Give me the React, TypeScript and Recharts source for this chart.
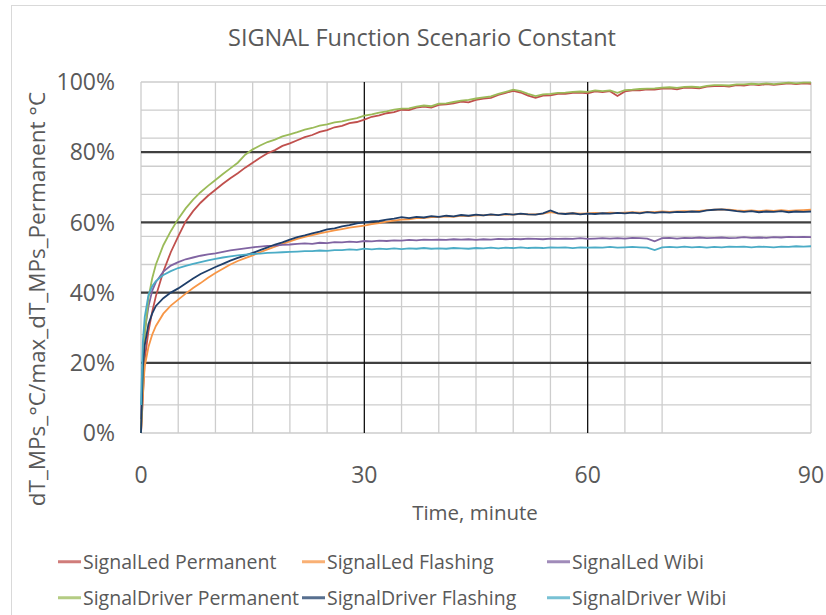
import { LineChart, Line, XAxis, YAxis, CartesianGrid } from "recharts";

// time axis (minutes) – dense at the start where the curves rise fast
const minutes = [
  0, 0.25, 0.5, 1, 1.5, 2, 3, 4, 5, 6, 7, 8, 9, 10, 11, 12, 13, 14, 15, 16, 17, 18, 19, 20,
  21, 22, 23, 24, 25, 26, 27, 28, 29, 30, 31, 32, 33, 34, 35, 36, 37, 38, 39, 40, 41, 42,
  43, 44, 45, 46, 47, 48, 49, 50, 51, 52, 53, 54, 55, 56, 57, 58, 59, 60, 61, 62, 63, 64,
  65, 66, 67, 68, 69, 70, 71, 72, 73, 74, 75, 76, 77, 78, 79, 80, 81, 82, 83, 84, 85, 86,
  87, 88, 89, 90,
];

// values in % of max dT (SignalDriver/SignalLed permanent)
const ledPermanent = [
  0, 10, 21, 29, 34.5, 39, 46, 51.5, 56, 60.3, 63.2, 65.6, 67.6, 69.3, 71, 72.6, 74, 75.6, 77, 78.4,
  79.7, 80.6, 81.8, 82.5, 83.4, 84.3, 84.9, 85.8, 86.3, 87.1, 87.5, 88.3, 88.6, 89.3, 90.1, 90.5,
  91.1, 91.4, 92.1, 92, 92.7, 93, 92.7, 93.5, 93.6, 93.9, 94.4, 94.2, 94.9, 95.3, 95.5, 96.3, 96.9,
  97.5, 97, 96.1, 95.5, 96.1, 96.2, 96.6, 96.6, 96.9, 97, 96.8, 97.3, 97.1, 97.4, 96, 97.3, 97.6,
  97.6, 97.9, 97.8, 98.1, 98.2, 97.9, 98.4, 98.3, 98.2, 98.7, 98.8, 98.9, 98.7, 99.1, 99, 99.3,
  99.1, 99.4, 99.2, 99.4, 99.6, 99.4, 99.6, 99.5,
];
const ledFlashing = [
  0, 11, 19, 24.5, 28, 30.5, 34, 36.3, 38, 39.7, 41.3, 42.7, 44.2, 45.6, 46.8, 48, 49, 49.8, 50.6,
  51.5, 52.3, 53.1, 53.9, 54.6, 55.3, 55.9, 56.4, 56.9, 57.3, 57.7, 58.1, 58.5, 58.8, 59.1, 59.5,
  59.8, 60.2, 60.5, 60.8, 60.9, 61.2, 61.2, 61.5, 61.5, 61.7, 61.6, 61.9, 61.8, 62, 62, 62.2, 62.1,
  62.3, 62.2, 62.4, 62.3, 62.3, 62.5, 62.9, 62.6, 62.5, 62.6, 62.5, 62.6, 62.7, 62.6, 62.8, 62.7,
  62.8, 62.9, 62.8, 63, 62.9, 63.1, 63, 63.1, 63.2, 63.1, 63.3, 63.5, 63.6, 63.7, 63.6, 63.4, 63.3,
  63.4, 63.2, 63.4, 63.3, 63.5, 63.3, 63.4, 63.5, 63.6,
];
const ledWibi = [
  4, 21, 29, 36, 40.5, 43, 46, 47.7, 48.7, 49.5, 50, 50.5, 50.9, 51.2, 51.6, 52, 52.3, 52.6, 52.9,
  53.1, 53.3, 53.4, 53.6, 53.7, 53.9, 54, 53.9, 54.2, 54.1, 54.4, 54.3, 54.5, 54.4, 54.7, 54.6,
  54.8, 54.7, 54.9, 54.8, 55, 54.9, 55.1, 55, 55.1, 55, 55.2, 55.1, 55.2, 55, 55.2, 55.1, 55.3,
  55.2, 55.3, 55.2, 55.4, 55.3, 55.2, 55.4, 55.3, 55.4, 55.3, 55.5, 55.3, 55.4, 55.5, 55.4, 55.5,
  55.4, 55.6, 55.5, 55.4, 54.6, 55.5, 55.6, 55.4, 55.6, 55.5, 55.7, 55.5, 55.6, 55.7, 55.5, 55.6,
  55.8, 55.6, 55.7, 55.6, 55.8, 55.7, 55.9, 55.8, 55.9, 55.8,
];
const driverPermanent = [
  0, 17, 28, 38.5, 44, 48, 53.5, 57.5, 61, 64, 66.5, 68.6, 70.4, 72.1, 73.8, 75.4, 77, 79.3, 80.8,
  81.9, 82.9, 83.6, 84.5, 85.1, 85.7, 86.4, 86.9, 87.6, 87.9, 88.5, 88.8, 89.3, 89.7, 90.4, 90.8,
  91.3, 91.6, 92.1, 92.4, 92.5, 93, 93.3, 93.1, 93.8, 93.9, 94.3, 94.7, 94.9, 95.3, 95.6, 95.9,
  96.6, 97.2, 97.8, 97.4, 96.6, 96, 96.5, 96.6, 96.9, 97, 97.2, 97.3, 97.2, 97.6, 97.4, 97.6, 96.9,
  97.7, 97.8, 98, 98.1, 98.2, 98.4, 98.5, 98.3, 98.6, 98.7, 98.5, 98.9, 99.1, 99.1, 99, 99.3, 99.3,
  99.5, 99.4, 99.6, 99.4, 99.6, 99.8, 99.6, 99.8, 99.8,
];
const driverFlashing = [
  0, 19, 25, 31, 34, 36.2, 38.4, 40, 41.2, 42.6, 44, 45.3, 46.3, 47.3, 48.2, 49.1, 49.9, 50.6, 51.3,
  52.1, 52.9, 53.7, 54.3, 55.1, 55.8, 56.3, 56.9, 57.4, 58, 58.3, 58.9, 59.2, 59.7, 60, 60.3, 60.4,
  60.8, 61.1, 61.5, 61.2, 61.6, 61.4, 61.8, 61.6, 61.9, 61.7, 62.1, 61.9, 62.2, 62, 62.3, 62.1,
  62.4, 62.2, 62.5, 62.3, 62.2, 62.6, 63.4, 62.6, 62.4, 62.6, 62.3, 62.5, 62.4, 62.6, 62.5, 62.7,
  62.6, 62.8, 62.6, 62.9, 62.7, 62.9, 62.8, 63, 62.9, 63.1, 63, 63.4, 63.6, 63.7, 63.5, 63.2, 63,
  63.2, 62.9, 63.1, 63, 63.2, 62.9, 63.1, 63, 63.1,
];
const driverWibi = [
  8, 26, 33, 39.3, 41.8, 43.3, 45, 46.1, 47, 47.6, 48.2, 48.7, 49.2, 49.6, 50, 50.3, 50.6, 50.8, 51,
  51.1, 51.3, 51.4, 51.5, 51.6, 51.7, 51.8, 51.8, 52, 51.9, 52.1, 52.1, 52.3, 52.2, 52.5, 52.3,
  52.5, 52.4, 52.6, 52.4, 52.6, 52.5, 52.7, 52.5, 52.6, 52.5, 52.7, 52.6, 52.5, 52.7, 52.6, 52.8,
  52.6, 52.8, 52.7, 52.9, 52.7, 52.8, 52.7, 52.9, 52.8, 52.9, 52.7, 52.9, 52.8, 52.9, 52.8, 53,
  52.8, 52.9, 53, 52.9, 52.8, 52.1, 52.9, 53, 52.9, 53.1, 52.9, 53, 52.8, 53, 52.9, 53.1, 53, 53.1,
  52.9, 53.1, 53, 52.9, 53.1, 53, 53.2, 53.1, 53.2,
];

const xTicks = [0, 30, 60, 90];
const yTicks = [0, 20, 40, 60, 80, 100];
const minorX = [0, 5, 10, 15, 20, 25, 35, 40, 45, 50, 55, 65, 70, 90];
const minorY = [
  0, 4, 8, 12, 16, 24, 28, 32, 36, 44, 48, 52, 56, 64, 68, 72, 76, 84, 88, 92, 96, 100,
];
const majorX = [30, 60];
const majorY = [20, 40, 60, 80];

const series = [
  { key: "ledPermanent", name: "SignalLed Permanent", color: "#C0504D", values: ledPermanent },
  { key: "ledFlashing", name: "SignalLed Flashing", color: "#F79646", values: ledFlashing },
  { key: "ledWibi", name: "SignalLed Wibi", color: "#8064A2", values: ledWibi },
  { key: "driverPermanent", name: "SignalDriver Permanent", color: "#9BBB59", values: driverPermanent },
  { key: "driverFlashing", name: "SignalDriver Flashing", color: "#1F3F6A", values: driverFlashing },
  { key: "driverWibi", name: "SignalDriver Wibi", color: "#4BACC6", values: driverWibi },
];

const data = minutes.map((t, i) => {
  const row: Record<string, number> = { t };
  series.forEach((s) => (row[s.key] = s.values[i]));
  return row;
});

const FONT = '"Open Sans", sans-serif';
const TEXT = "#595959";

const legendCols = [58, 302, 547];
const legendRows = [562, 598];

function Centered({ x, y, size, rotate, children }: any) {
  return (
    <div
      style={{
        position: "absolute",
        left: x,
        top: y,
        transform: `translate(-50%, -50%)${rotate ? ` rotate(${rotate}deg)` : ""}`,
        whiteSpace: "nowrap",
        fontFamily: FONT,
        fontSize: size,
        color: TEXT,
        lineHeight: 1,
      }}
    >
      {children}
    </div>
  );
}

export default function App() {
  return (
    <div
      style={{
        position: "absolute",
        left: 0,
        top: 0,
        width: 826,
        height: 615,
        overflow: "hidden",
        background: "#fff",
      }}
    >
      <div
        style={{
          position: "absolute",
          left: 11,
          top: 5,
          width: 900,
          height: 700,
          border: "1.5px solid #d9d9d9",
        }}
      />
      <Centered x={422} y={38} size={23.5}>
        SIGNAL Function Scenario Constant
      </Centered>
      <Centered x={37} y={299} size={22.5} rotate={-90}>
        dT_MPs_°C/max_dT_MPs_Permanent °C
      </Centered>
      <Centered x={475} y={512} size={20.5}>
        Time, minute
      </Centered>

      <div style={{ position: "absolute", left: 0, top: 0 }}>
        <LineChart
          width={826}
          height={615}
          data={data}
          margin={{ top: 82, right: 15, left: 81, bottom: 122 }}
        >
          <CartesianGrid
            horizontalValues={minorY}
            verticalValues={minorX}
            stroke="#cdcdcd"
            strokeWidth={1.3}
          />
          <CartesianGrid
            horizontalValues={majorY}
            vertical={false}
            stroke="#3f3f3f"
            strokeWidth={2.2}
          />
          <CartesianGrid
            verticalValues={majorX}
            horizontal={false}
            stroke="#111"
            strokeWidth={1.3}
          />
          <XAxis
            dataKey="t"
            type="number"
            domain={[0, 90]}
            ticks={xTicks}
            height={60}
            axisLine={false}
            tickLine={false}
            tickSize={0}
            tickMargin={34}
            tick={{ fill: TEXT, fontSize: 23, fontFamily: FONT }}
          />
          <YAxis
            type="number"
            domain={[0, 100]}
            ticks={yTicks}
            width={60}
            axisLine={false}
            tickLine={false}
            tickSize={0}
            tickMargin={26}
            tickFormatter={(v) => `${v}%`}
            tick={{ fill: TEXT, fontSize: 23, fontFamily: FONT }}
          />
          {series.map((s) => (
            <Line
              key={s.key}
              dataKey={s.key}
              name={s.name}
              type="linear"
              stroke={s.color}
              strokeWidth={1.8}
              dot={false}
              isAnimationActive={false}
            />
          ))}
        </LineChart>
      </div>

      {series.map((s, i) => {
        const x = legendCols[i % 3];
        const y = legendRows[Math.floor(i / 3)];
        return (
          <div
            key={s.key}
            style={{
              position: "absolute",
              left: x,
              top: y,
              transform: "translateY(-50%)",
              display: "flex",
              alignItems: "center",
              whiteSpace: "nowrap",
              fontFamily: FONT,
              fontSize: 19.5,
              color: TEXT,
              lineHeight: 1,
            }}
          >
            <span
              style={{
                display: "inline-block",
                width: 23,
                height: 3,
                background: s.color,
                opacity: 0.75,
                marginRight: 2,
              }}
            />
            {s.name}
          </div>
        );
      })}
    </div>
  );
}
